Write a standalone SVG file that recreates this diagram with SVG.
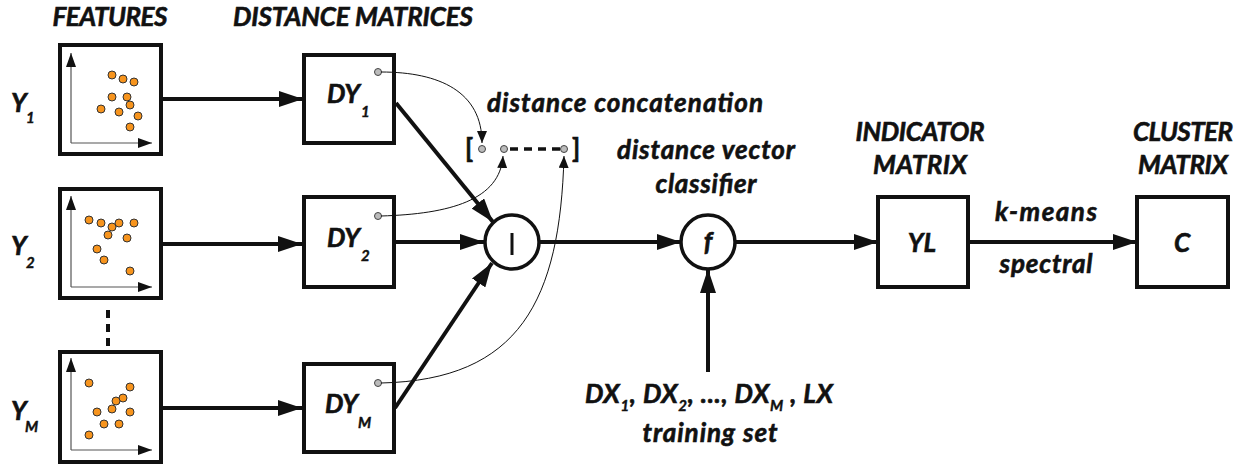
<svg xmlns="http://www.w3.org/2000/svg" width="1256" height="465" viewBox="0 0 1256 465">
<style>
text{font-family:Lato,"Open Sans","Liberation Sans",sans-serif;font-weight:bold;font-style:italic;fill:#111;stroke:#111;stroke-width:0.6}
.box{fill:#fff;stroke:#111;stroke-width:4}
.thin{fill:none;stroke:#111;stroke-width:1}
.axis{fill:none;stroke:#555;stroke-width:1.2}
.main{fill:none;stroke:#111;stroke-width:4}
.dot{fill:#f7941d;stroke:#333;stroke-width:1}
.port{fill:#bbb;stroke:#444;stroke-width:1}
.h{font-size:26px;text-anchor:middle}
.lab{font-size:26px}
.sub{font-size:15px;stroke-width:0.4}
</style>
<defs>
<marker id="big" markerUnits="userSpaceOnUse" markerWidth="24" markerHeight="16" refX="24" refY="8" orient="auto"><path d="M0,0 L24,8 L0,16 z" fill="#111"/></marker>
<marker id="sm" markerUnits="userSpaceOnUse" markerWidth="12" markerHeight="10" refX="12" refY="5" orient="auto"><path d="M0,0 L12,5 L0,10 z" fill="#111"/></marker>
<marker id="ax" markerUnits="userSpaceOnUse" markerWidth="14" markerHeight="10" refX="14" refY="5" orient="auto"><path d="M0,0 L14,5 L0,10 z" fill="#111"/></marker>
</defs>

<text class="h" x="110" y="26" textLength="115">FEATURES</text>
<text class="h" x="353" y="26" textLength="240">DISTANCE MATRICES</text>
<text class="h" x="920" y="141" textLength="129">INDICATOR</text>
<text class="h" x="920" y="174" textLength="94">MATRIX</text>
<text class="h" x="1183" y="141" textLength="100">CLUSTER</text>
<text class="h" x="1183" y="174" textLength="90">MATRIX</text>

<g id="Y1">
<rect class="box" x="60" y="45" width="101" height="109"/>
<path class="axis" d="M71,143 V53" marker-end="url(#ax)"/>
<path class="axis" d="M71,143 H152" marker-end="url(#ax)"/>
<circle class="dot" cx="112" cy="75" r="4"/><circle class="dot" cx="123" cy="79" r="4"/><circle class="dot" cx="134" cy="82" r="4"/><circle class="dot" cx="112" cy="97" r="4"/><circle class="dot" cx="127" cy="97" r="4"/><circle class="dot" cx="130" cy="105" r="4"/><circle class="dot" cx="101" cy="109" r="4"/><circle class="dot" cx="119" cy="112" r="4"/><circle class="dot" cx="138" cy="116" r="4"/><circle class="dot" cx="130" cy="127" r="4"/>
<text class="lab" x="11" y="112">Y</text><text class="sub" x="26" y="123">1</text>
</g>
<g id="Y2">
<rect class="box" x="60" y="189" width="101" height="109"/>
<path class="axis" d="M71,287 V196" marker-end="url(#ax)"/>
<path class="axis" d="M71,287 H152" marker-end="url(#ax)"/>
<circle class="dot" cx="89" cy="220" r="4"/><circle class="dot" cx="101" cy="223" r="4"/><circle class="dot" cx="119" cy="223" r="4"/><circle class="dot" cx="134" cy="223" r="4"/><circle class="dot" cx="112" cy="227" r="4"/><circle class="dot" cx="108" cy="235" r="4"/><circle class="dot" cx="127" cy="238" r="4"/><circle class="dot" cx="97" cy="249" r="4"/><circle class="dot" cx="104" cy="260" r="4"/><circle class="dot" cx="130" cy="271" r="4"/>
<text class="lab" x="11" y="255">Y</text><text class="sub" x="26" y="268">2</text>
</g>
<g id="YM">
<rect class="box" x="60" y="352" width="101" height="110"/>
<path class="axis" d="M71,450 V358" marker-end="url(#ax)"/>
<path class="axis" d="M71,450 H152" marker-end="url(#ax)"/>
<circle class="dot" cx="89" cy="383" r="4"/><circle class="dot" cx="130" cy="387" r="4"/><circle class="dot" cx="123" cy="398" r="4"/><circle class="dot" cx="116" cy="401" r="4"/><circle class="dot" cx="112" cy="409" r="4"/><circle class="dot" cx="97" cy="412" r="4"/><circle class="dot" cx="130" cy="412" r="4"/><circle class="dot" cx="104" cy="424" r="4"/><circle class="dot" cx="119" cy="424" r="4"/><circle class="dot" cx="89" cy="435" r="4"/>
<text class="lab" x="11" y="420">Y</text><text class="sub" x="25" y="432">M</text>
</g>
<path d="M108,310 V346" stroke="#111" stroke-width="4" stroke-dasharray="8,6" fill="none"/>

<g id="DY1">
<rect class="box" x="304" y="55" width="90" height="88"/>
<text class="lab" x="327" y="103">DY</text><text class="sub" x="361" y="117">1</text>
<circle class="port" cx="378" cy="72" r="3.5"/>
</g>
<g id="DY2">
<rect class="box" x="304" y="197" width="90" height="90"/>
<text class="lab" x="327" y="247">DY</text><text class="sub" x="361" y="261">2</text>
<circle class="port" cx="378" cy="216" r="3.5"/>
</g>
<g id="DYM">
<rect class="box" x="304" y="364" width="90" height="88"/>
<text class="lab" x="325" y="413">DY</text><text class="sub" x="358" y="428">M</text>
<circle class="port" cx="378" cy="383" r="3.5"/>
</g>

<g id="concat">
<circle cx="512" cy="242" r="27" fill="#fff" stroke="#111" stroke-width="3.5"/>
<path d="M512,233 V255" stroke="#111" stroke-width="3"/>
</g>
<g id="classifier">
<circle cx="708" cy="242" r="27" fill="#fff" stroke="#111" stroke-width="3.5"/>
<text class="lab" x="708" y="251" text-anchor="middle">f</text>
</g>
<g id="YL">
<rect class="box" x="878" y="197" width="90" height="90"/>
<text class="lab" x="922" y="252" text-anchor="middle">YL</text>
</g>
<g id="C">
<rect class="box" x="1137" y="197" width="91" height="90"/>
<text class="lab" x="1182" y="252" text-anchor="middle">C</text>
</g>

<g id="vector">
<text class="lab" x="465" y="158" style="font-style:normal">[</text>
<text class="lab" x="572" y="158" style="font-style:normal">]</text>
<path d="M510,149 H560" stroke="#111" stroke-width="3.5" stroke-dasharray="8,6" fill="none"/>
<circle class="port" cx="482" cy="149" r="3.5"/>
<circle class="port" cx="504" cy="149" r="3.5"/>
<circle class="port" cx="564" cy="149" r="3.5"/>
</g>

<g id="connectors">
<path class="main" d="M161,99 H303" marker-end="url(#big)"/>
<path class="main" d="M161,244 H302" marker-end="url(#big)"/>
<path class="main" d="M161,408 H302" marker-end="url(#big)"/>
<path class="main" d="M396,103 L493,222" marker-end="url(#big)"/>
<path class="main" d="M394,242 H484" marker-end="url(#big)"/>
<path class="main" d="M395,408 L492,263" marker-end="url(#big)"/>
<path class="main" d="M539,242 H681" marker-end="url(#big)"/>
<path class="main" d="M735,242 H878" marker-end="url(#big)"/>
<path class="main" d="M968,242 H1137" marker-end="url(#big)"/>
<path class="main" d="M708,372 V269" marker-end="url(#big)"/>
<path class="thin" d="M381,72 C440,72 482,92 482,143" marker-end="url(#sm)"/>
<path class="thin" d="M381,216 C450,214 500,200 503,156" marker-end="url(#sm)"/>
<path class="thin" d="M381,383 C520,380 560,300 564,156" marker-end="url(#sm)"/>
</g>

<text class="lab" x="487" y="112" textLength="276">distance concatenation</text>
<text class="lab" x="706" y="159" text-anchor="middle" textLength="178">distance vector</text>
<text class="lab" x="706" y="193" text-anchor="middle" textLength="101">classifier</text>
<text class="lab" x="1046" y="221" text-anchor="middle" textLength="102">k-means</text>
<text class="lab" x="1046" y="273" text-anchor="middle" textLength="93">spectral</text>
<text class="lab" x="585" y="403" textLength="248">DX<tspan class="sub" dy="8">1</tspan><tspan dy="-8">, DX</tspan><tspan class="sub" dy="8">2</tspan><tspan dy="-8">, ..., DX</tspan><tspan class="sub" dy="8">M</tspan><tspan dy="-8"> , LX</tspan></text>
<text class="lab" x="710" y="442" text-anchor="middle" textLength="135">training set</text>
</svg>
